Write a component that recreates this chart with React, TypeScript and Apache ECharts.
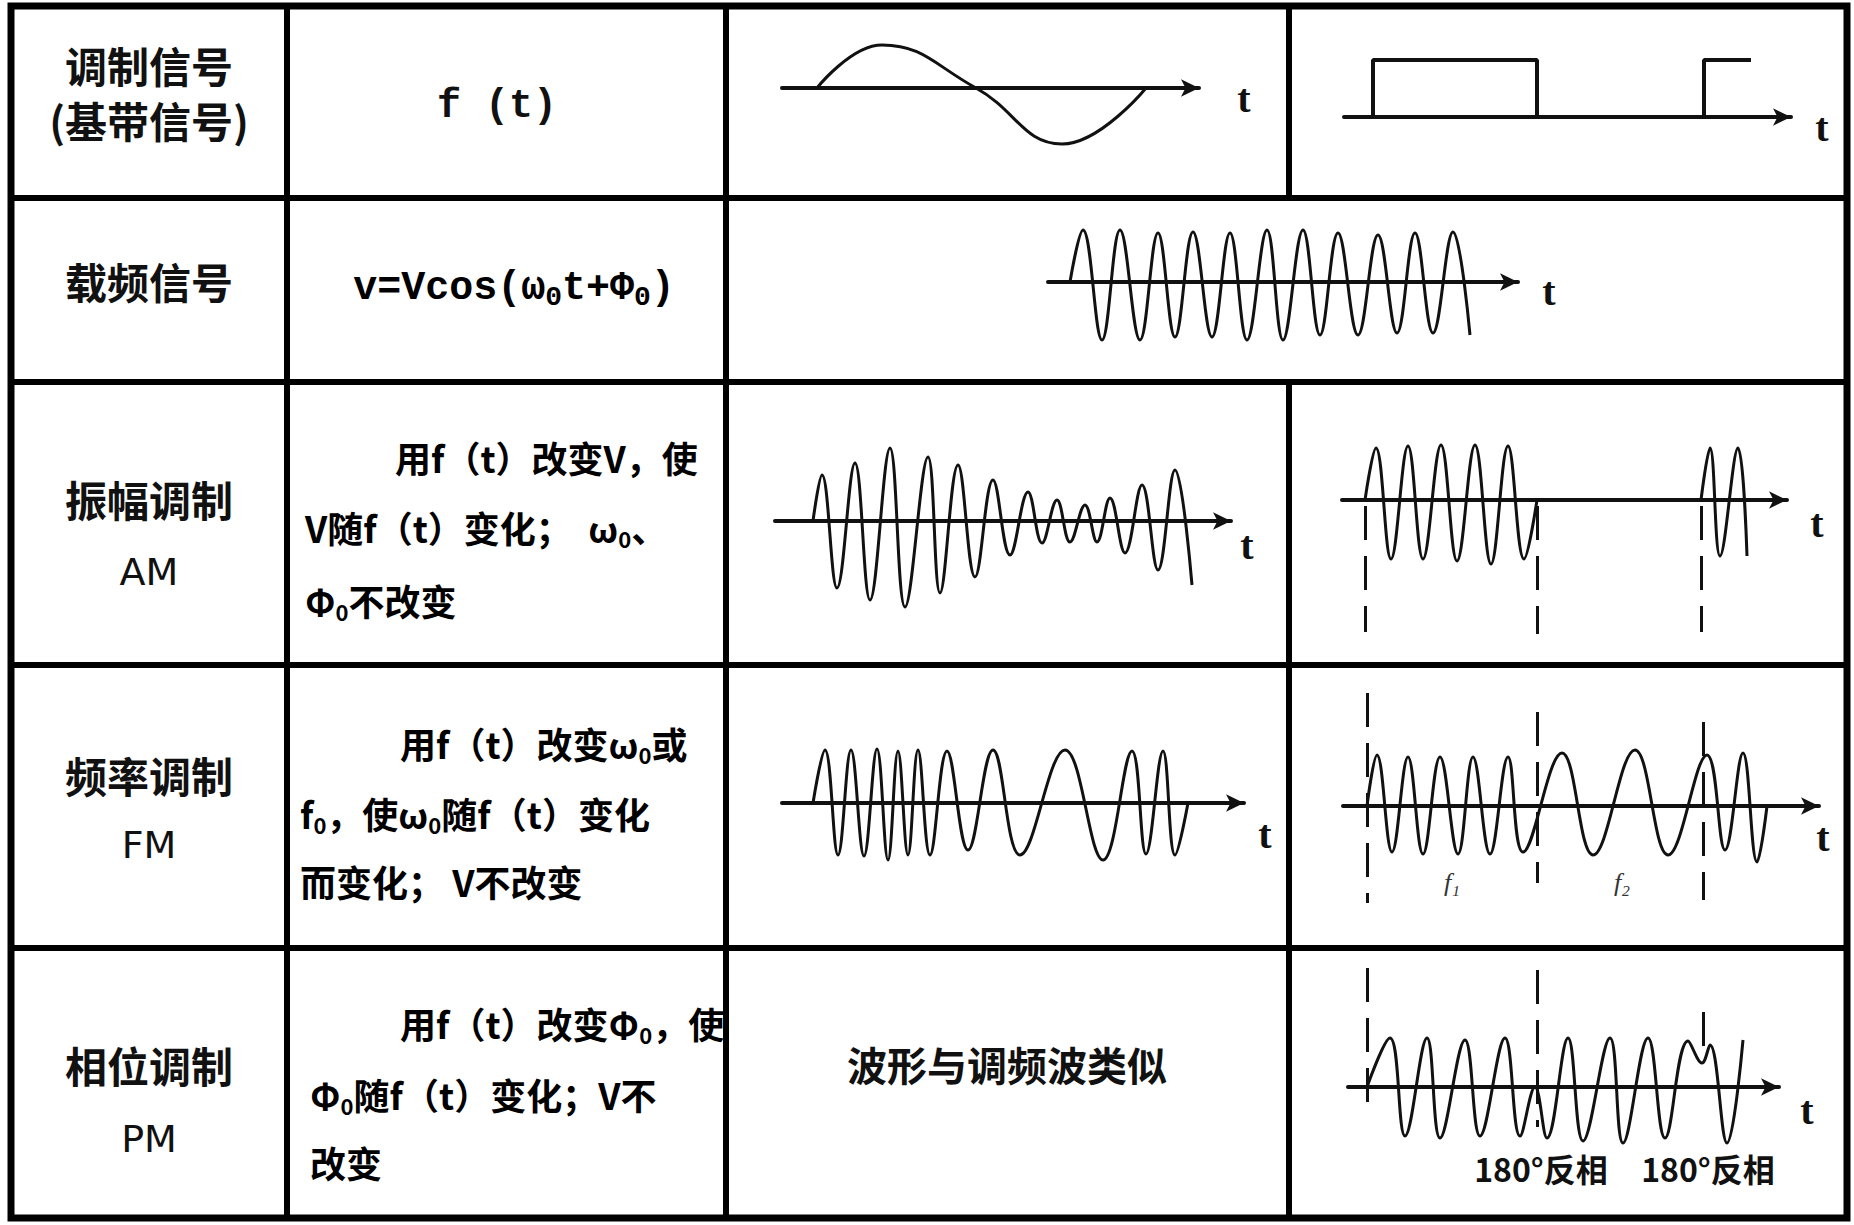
import React, { useEffect, useRef } from 'react';
import * as echarts from 'echarts';

// ---------------- text content ----------------
const rowTitles = ['调制信号', '载频信号', '振幅调制', '频率调制', '相位调制'];
const rowSubtitles = ['(基带信号)', '', 'AM', 'FM', 'PM'];
const signalExpr = 'f (t)';
const carrierExpr = 'v=Vcos(ω_0t+Φ_0)';
const amDesc = ['用f（t）改变V，使', 'V随f（t）变化；  ω_0、', 'Φ_0不改变'];
const fmDesc = ['用f（t）改变ω_0或', 'f_0，使ω_0随f（t）变化', '而变化； V不改变'];
const pmDesc = ['用f（t）改变Φ_0，使', 'Φ_0随f（t）变化；V不', '改变'];
const pmNote = '波形与调频波类似';
const fmBandLabels = ['f₁', 'f₂'];
const phaseLabels = ['180°反相', '180°反相'];
const timeAxisName = 't';

// ---------------- waveform values (time, amplitude) ----------------
// modulating sine
const sineT = [35, 100, 194, 280, 364];
const sineV = [0, 43, 0, -56, 0];
// modulating square (keying) signal
const squareT = [29, 29, 193, 193, 360, 360, 407];
const squareV = [0, 57, 57, 0, 0, 57, 57];
// carrier
const carrierT = [22, 35, 54, 72, 92, 110, 127, 145, 164, 182, 199, 219, 235, 255, 272, 290, 310, 330, 349, 367, 385, 405, 422];
const carrierV = [0, 52, -58, 52, -58, 49, -55, 50, -55, 49, -58, 52, -58, 52, -53, 49, -53, 47, -51, 49, -51, 50, -53];
// AM by sine
const amT = [38, 47, 62, 80, 95, 115, 130, 153, 165, 183, 200, 218, 235, 253, 267, 282, 295, 310, 322, 335, 350, 367, 383, 400, 417];
const amV = [0, 46, -67, 58, -79, 73, -86, 64, -72, 56, -56, 41, -34, 29, -22, 21, -21, 16, -21, 23, -32, 36, -49, 51, -64];
// AM by square (two bursts)
const keyedT1 = [23, 34, 49, 66, 81, 99, 115, 133, 149, 166, 182, 195];
const keyedV1 = [0, 52, -59, 54, -59, 55, -61, 55, -64, 54, -59, 0];
const keyedT2 = [359, 368, 378, 396, 405];
const keyedV2 = [0, 52, -56, 52, -56];
const keyedDashT = [23, 195, 359];
const keyedDashTop = [-6, -6, -6];
const keyedDashBottom = [-132, -134, -132];
// FM by sine
const fmT = [31, 43, 56, 69, 82, 95, 106, 116, 126, 136, 148, 165, 186, 211, 238, 283, 321, 350, 364, 381, 393, 406];
const fmV = [0, 53, -52, 53, -53, 54, -57, 52, -52, 53, -52, 52, -47, 53, -52, 53, -57, 52, -51, 52, -52, 0];
// FM by square
const fskT = [24, 34, 49, 65, 80, 97, 115, 130, 147, 165, 180, 219, 250, 292, 325, 364, 382, 400, 414, 424];
const fskV = [0, 51, -46, 49, -48, 49, -48, 49, -48, 49, -46, 53, -49, 56, -49, 51, -44, 53, -56, 0];
const fskDashT = [24, 194, 360];
const fskDashTop = [113, 94, 84];
const fskDashBottom = [-97, -77, -94];
// PM by square
const pskT = [19, 42, 57, 79, 92, 117, 132, 157, 172, 187, 199, 220, 235, 262, 275, 300, 317, 340, 354, 362, 379, 395];
const pskV = [0, 49, -49, 49, -51, 47, -49, 49, -49, 0, -51, 49, -54, 49, -56, 49, -51, 46, 24, 42, -56, 47];
const pskDashT = [19, 189, 355];
const pskDashTop = [119, 117, 75];
const pskDashBottom = [-28, -40, 27];

// ---------------- styling / layout ----------------
const CJK = "'Noto Sans CJK SC', 'Noto Sans', sans-serif";
const SERIF = "'Liberation Serif', 'DejaVu Serif', serif";
const MONO = "'Liberation Mono', 'DejaVu Sans Mono', monospace";
const LATIN = "'DejaVu Sans', 'Noto Sans', sans-serif";
const INK = '#111';

type Layout = { left: number; axisY: number; len: number; amp: number; tx: number; ty: number };
const L: Record<string, Layout> = {
  sine: { left: 782, axisY: 88, len: 417, amp: 80, tx: 1244, ty: 98 },
  square: { left: 1344, axisY: 117, len: 447, amp: 80, tx: 1822, ty: 127 },
  carrier: { left: 1048, axisY: 282, len: 470, amp: 80, tx: 1549, ty: 291 },
  amL: { left: 775, axisY: 521, len: 456, amp: 120, tx: 1247, ty: 545 },
  amR: { left: 1342, axisY: 500, len: 445, amp: 140, tx: 1817, ty: 523 },
  fmL: { left: 782, axisY: 803, len: 462, amp: 120, tx: 1265, ty: 834 },
  fmR: { left: 1343, axisY: 806, len: 476, amp: 130, tx: 1823, ty: 837 },
  pmR: { left: 1348, axisY: 1087, len: 431, amp: 130, tx: 1807, ty: 1110 },
};

type Wave = { t: number[]; v: number[]; smooth?: number | boolean; width?: number };
type Dash = { t: number[]; top: number[]; bottom: number[] };
const panels: { layout: Layout; waves: Wave[]; dash?: Dash }[] = [
  { layout: L.sine, waves: [{ t: sineT, v: sineV, smooth: 0.45 }] },
  { layout: L.square, waves: [{ t: squareT, v: squareV, smooth: false, width: 4 }] },
  { layout: L.carrier, waves: [{ t: carrierT, v: carrierV }] },
  { layout: L.amL, waves: [{ t: amT, v: amV }] },
  {
    layout: L.amR,
    waves: [{ t: keyedT1, v: keyedV1 }, { t: keyedT2, v: keyedV2 }],
    dash: { t: keyedDashT, top: keyedDashTop, bottom: keyedDashBottom },
  },
  { layout: L.fmL, waves: [{ t: fmT, v: fmV }] },
  { layout: L.fmR, waves: [{ t: fskT, v: fskV }], dash: { t: fskDashT, top: fskDashTop, bottom: fskDashBottom } },
  { layout: L.pmR, waves: [{ t: pskT, v: pskV }], dash: { t: pskDashT, top: pskDashTop, bottom: pskDashBottom } },
];

function pairs(t: number[], v: number[]) {
  return t.map((x, i) => [x, v[i]]);
}

function toRich(s: string) {
  const parts = s.split(/_(\d)/);
  let out = '';
  parts.forEach((p, i) => {
    if (!p) return;
    out += i % 2 === 1 ? `{s|${p}}` : `{c|${p}}`;
  });
  return out;
}

const richCJK = {
  c: { fontFamily: CJK, fontSize: 36, fontWeight: 'bold', color: INK, lineHeight: 44 },
  s: { fontFamily: CJK, fontSize: 22, fontWeight: 'bold', color: INK, verticalAlign: 'bottom' },
};
const richMono = {
  c: { fontFamily: MONO, fontSize: 40, fontWeight: 'bold', color: INK, lineHeight: 46 },
  s: { fontFamily: MONO, fontSize: 28, fontWeight: 'bold', color: INK, verticalAlign: 'bottom' },
};

function buildOption() {
  const grid: any[] = [];
  const xAxis: any[] = [];
  const yAxis: any[] = [];
  const series: any[] = [];
  const graphic: any[] = [];

  panels.forEach((p, i) => {
    const g = p.layout;
    grid.push({
      left: g.left,
      top: g.axisY - g.amp,
      width: g.len,
      height: 2 * g.amp,
      containLabel: false,
      outerBoundsMode: 'none',
    });
    xAxis.push({
      type: 'value',
      gridIndex: i,
      min: 0,
      max: g.len,
      axisLine: {
        show: true,
        onZero: true,
        symbol: ['none', 'arrow'],
        symbolSize: [13, 18],
        lineStyle: { color: INK, width: 4 },
      },
      axisTick: { show: false },
      axisLabel: { show: false },
      splitLine: { show: false },
    });
    yAxis.push({ type: 'value', gridIndex: i, min: -g.amp, max: g.amp, show: false });
    // axis name "t"
    graphic.push({
      type: 'text',
      x: g.tx,
      y: g.ty,
      style: {
        text: timeAxisName,
        fontFamily: SERIF,
        fontSize: 40,
        fontWeight: 'bold',
        lineHeight: 42,
        fill: INK,
        align: 'center',
        verticalAlign: 'middle',
      },
    });
    p.waves.forEach((w, k) => {
      const s: any = {
        type: 'line',
        xAxisIndex: i,
        yAxisIndex: i,
        data: pairs(w.t, w.v),
        smooth: w.smooth === undefined ? 0.4 : w.smooth,
        symbol: 'none',
        showSymbol: false,
        silent: true,
        clip: false,
        z: 3,
        lineStyle: { color: INK, width: w.width || 3 },
      };
      if (k === 0 && p.dash) {
        const d = p.dash;
        s.markLine = {
          silent: true,
          symbol: ['none', 'none'],
          label: { show: false },
          lineStyle: { type: [34, 16], color: INK, width: 3 },
          emphasis: { disabled: true },
          data: d.t.map((t, j) => [{ coord: [t, d.top[j]] }, { coord: [t, d.bottom[j]] }]),
        };
      }
      series.push(s);
    });
  });

  // ---------- table frame ----------
  const hLine = (y: number) => ({
    type: 'line',
    shape: { x1: 11, y1: y, x2: 1847, y2: y },
    style: { stroke: '#000', lineWidth: 6 },
  });
  const vLine = (x: number, y1: number, y2: number) => ({
    type: 'line',
    shape: { x1: x, y1, x2: x, y2 },
    style: { stroke: '#000', lineWidth: 6 },
  });
  graphic.push({
    type: 'rect',
    shape: { x: 11, y: 6, width: 1836, height: 1212 },
    style: { fill: 'none', stroke: '#000', lineWidth: 7 },
  });
  [198, 382, 665, 948].forEach((y) => graphic.push(hLine(y)));
  graphic.push(vLine(287, 6, 1218));
  graphic.push(vLine(726, 6, 1218));
  graphic.push(vLine(1289, 6, 198));
  graphic.push(vLine(1289, 382, 1218));

  // ---------- first column ----------
  const titleY = [64, 280, 498, 774, 1064];
  const subY = [119, 0, 572, 845, 1139];
  rowTitles.forEach((t, i) => {
    graphic.push({
      type: 'text',
      x: 149,
      y: titleY[i],
      style: {
        text: t,
        fontFamily: CJK,
        fontSize: 42,
        lineHeight: 44,
        fontWeight: 'bold',
        fill: INK,
        align: 'center',
        verticalAlign: 'middle',
      },
    });
    const sub = rowSubtitles[i];
    if (sub) {
      const latin = i > 0;
      graphic.push({
        type: 'text',
        x: 149,
        y: subY[i],
        style: {
          text: sub,
          fontFamily: latin ? LATIN : CJK,
          fontSize: latin ? 38 : 42,
          lineHeight: 44,
          fontWeight: latin ? 'normal' : 'bold',
          fill: INK,
          align: 'center',
          verticalAlign: 'middle',
        },
      });
    }
  });

  // ---------- second column ----------
  graphic.push({
    type: 'text',
    x: 497,
    y: 106,
    style: {
      text: signalExpr,
      fontFamily: MONO,
      fontSize: 40,
      lineHeight: 44,
      fontWeight: 'bold',
      fill: INK,
      align: 'center',
      verticalAlign: 'middle',
    },
  });
  graphic.push({
    type: 'text',
    x: 514,
    y: 288,
    style: { text: toRich(carrierExpr), rich: richMono, align: 'center', verticalAlign: 'middle' },
  });
  const descBlocks = [
    { lines: amDesc, x: [395, 305, 305], y: [457, 527, 600] },
    { lines: fmDesc, x: [400, 300, 300], y: [743, 813, 881] },
    { lines: pmDesc, x: [400, 310, 310], y: [1023, 1094, 1162] },
  ];
  descBlocks.forEach((b) => {
    b.lines.forEach((ln, j) => {
      graphic.push({
        type: 'text',
        x: b.x[j],
        y: b.y[j],
        style: { text: toRich(ln), rich: richCJK, align: 'left', verticalAlign: 'middle' },
      });
    });
  });

  // ---------- third column note ----------
  graphic.push({
    type: 'text',
    x: 1007,
    y: 1064,
    style: {
      text: pmNote,
      fontFamily: CJK,
      fontSize: 40,
      lineHeight: 44,
      fontWeight: 'bold',
      fill: INK,
      align: 'center',
      verticalAlign: 'middle',
    },
  });

  // ---------- small annotations ----------
  [1452, 1622].forEach((x, i) => {
    graphic.push({
      type: 'text',
      x,
      y: 882,
      style: {
        text: fmBandLabels[i],
        fontFamily: SERIF,
        fontStyle: 'italic',
        fontSize: 26,
        lineHeight: 28,
        fill: '#333',
        align: 'center',
        verticalAlign: 'middle',
      },
    });
  });
  [1541, 1708].forEach((x, i) => {
    graphic.push({
      type: 'text',
      x,
      y: 1168,
      style: {
        text: phaseLabels[i],
        fontFamily: CJK,
        fontSize: 32,
        lineHeight: 36,
        fontWeight: 'bold',
        fill: INK,
        align: 'center',
        verticalAlign: 'middle',
      },
    });
  });

  return {
    animation: false,
    backgroundColor: '#ffffff',
    grid,
    xAxis,
    yAxis,
    series,
    graphic: { elements: graphic },
  };
}

export default function App() {
  const ref = useRef<HTMLDivElement>(null);
  useEffect(() => {
    document.body.style.margin = '0';
    const chart = echarts.init(ref.current as HTMLDivElement, null, { renderer: 'svg' });
    chart.setOption(buildOption() as any);
    return () => chart.dispose();
  }, []);
  return <div ref={ref} style={{ width: 1854, height: 1225, background: '#fff' }} />;
}
